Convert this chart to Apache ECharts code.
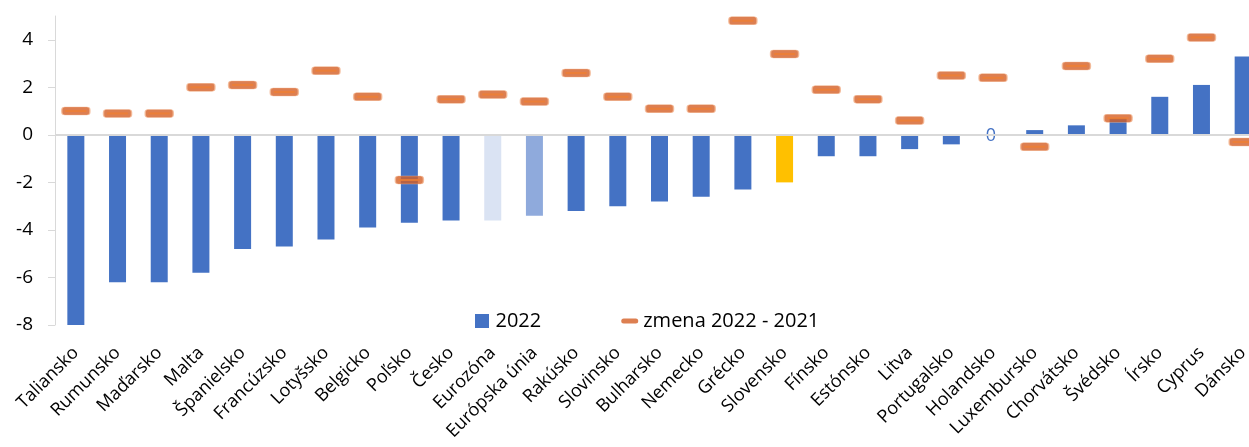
<!DOCTYPE html>
<html>
<head>
<meta charset="utf-8">
<script src="https://cdn.jsdelivr.net/npm/echarts@6/dist/echarts.min.js"></script>
<style>
  html, body { margin: 0; padding: 0; background: #fff; }
  #chart { width: 1249px; height: 447px; }
</style>
</head>
<body>
<div id="chart"></div>
<script>
// Countries / aggregates on the horizontal axis
const categories = [
  'Taliansko', 'Rumunsko', 'Maďarsko', 'Malta', 'Španielsko', 'Francúzsko',
  'Lotyšsko', 'Belgicko', 'Poľsko', 'Česko', 'Eurozóna', 'Európska únia',
  'Rakúsko', 'Slovinsko', 'Bulharsko', 'Nemecko', 'Grécko', 'Slovensko',
  'Fínsko', 'Estónsko', 'Litva', 'Portugalsko', 'Holandsko', 'Luxembursko',
  'Chorvátsko', 'Švédsko', 'Írsko', 'Cyprus', 'Dánsko'
];

// Level in 2022
const values2022 = [
  -8.0, -6.2, -6.2, -5.8, -4.8, -4.7,
  -4.4, -3.9, -3.7, -3.6, -3.6, -3.4,
  -3.2, -3.0, -2.8, -2.6, -2.3, -2.0,
  -0.9, -0.9, -0.6, -0.4, 0.0, 0.2,
  0.4, 0.7, 1.6, 2.1, 3.3
];

// Change 2022 vs 2021
const change = [
  1.0, 0.9, 0.9, 2.0, 2.1, 1.8,
  2.7, 1.6, -1.9, 1.5, 1.7, 1.4,
  2.6, 1.6, 1.1, 1.1, 4.8, 3.4,
  1.9, 1.5, 0.6, 2.5, 2.4, -0.5,
  2.9, 0.7, 3.2, 4.1, -0.3
];

const yTicks = [-8, -6, -4, -2, 0, 2, 4];
const seriesNames = ['2022', 'zmena 2022 - 2021'];

const FONT = 'Open Sans';
const BLUE = '#4472C4';
const ORANGE_DARK = '#D55F26';
const ORANGE_LIGHT = '#EF7F33';
const special = {
  'Eurozóna': '#DAE3F3',
  'Európska únia': '#8FAADC',
  'Slovensko': '#FFC000'
};

// short rounded dash used for the change markers (28 x 8 box)
const DASH = 'path://M3,0 H25 Q28,0 28,3 V5 Q28,8 25,8 H3 Q0,8 0,5 V3 Q0,0 3,0 Z';

const barData = values2022.map((v, i) => {
  const item = { value: v };
  const c = special[categories[i]];
  if (c) item.itemStyle = { color: c };
  if (v === 0) {
    item.label = {
      show: true, position: 'inside', formatter: '0', offset: [-2, 1],
      color: BLUE, fontSize: 18, fontFamily: FONT
    };
  }
  return item;
});

const chart = echarts.init(document.getElementById('chart'), null, { renderer: 'canvas' });
chart.setOption({
  animation: false,
  backgroundColor: '#ffffff',
  textStyle: { fontFamily: FONT },
  grid: {
    left: 55, top: 16, width: 1209, bottom: 122,
    containLabel: false, outerBoundsMode: 'none'
  },
  legend: {
    left: 470, top: 306,
    itemGap: 80,
    itemWidth: 17, itemHeight: 14,
    textStyle: { fontFamily: FONT, fontSize: 20, color: '#000' },
    data: [
      { name: seriesNames[0], icon: 'path://M0,0 H14 V14 H0 Z' },
      {
        name: seriesNames[1],
        icon: 'path://M2.5,0 H14.5 A2.5,2.5 0 0 1 14.5,5 H2.5 A2.5,2.5 0 0 1 2.5,0 Z',
        itemStyle: { color: ORANGE_DARK, borderWidth: 0 }
      }
    ]
  },
  xAxis: {
    type: 'category',
    data: categories,
    boundaryGap: true,
    axisLine: { show: false },
    axisTick: { show: false },
    axisLabel: {
      rotate: 45, interval: 0, margin: 25,
      fontFamily: FONT, fontSize: 18, color: '#000'
    }
  },
  yAxis: {
    type: 'value',
    min: -8, max: 5, interval: 2,
    splitLine: { show: false },
    axisLine: { show: true, lineStyle: { color: '#d9d9d9', width: 1 } },
    axisTick: {
      show: true, length: 7, customValues: yTicks,
      lineStyle: { color: '#d9d9d9' }
    },
    axisLabel: {
      customValues: yTicks, margin: 22,
      fontFamily: FONT, fontSize: 19, color: '#000'
    }
  },
  series: [
    {
      name: seriesNames[0],
      type: 'bar',
      barWidth: 17,
      itemStyle: { color: BLUE },
      data: barData,
      markLine: {
        silent: true,
        symbol: 'none',
        label: { show: false },
        lineStyle: { color: '#d9d9d9', width: 2, type: 'solid' },
        data: [{ yAxis: 0 }]
      },
      z: 2
    },
    {
      // dark rounded dash
      name: seriesNames[1],
      type: 'scatter',
      symbol: DASH,
      symbolSize: [28, 8],
      itemStyle: { color: ORANGE_DARK, borderColor: '#F2B591', borderWidth: 0.8 },
      data: change,
      z: 5
    },
    {
      // thin lighter stripe through the middle of each dash
      name: 'zmena-stripe',
      type: 'scatter',
      symbol: 'rect',
      symbolSize: [21, 2],
      itemStyle: { color: ORANGE_LIGHT },
      data: change,
      silent: true,
      z: 6
    }
  ]
});
</script>
</body>
</html>
